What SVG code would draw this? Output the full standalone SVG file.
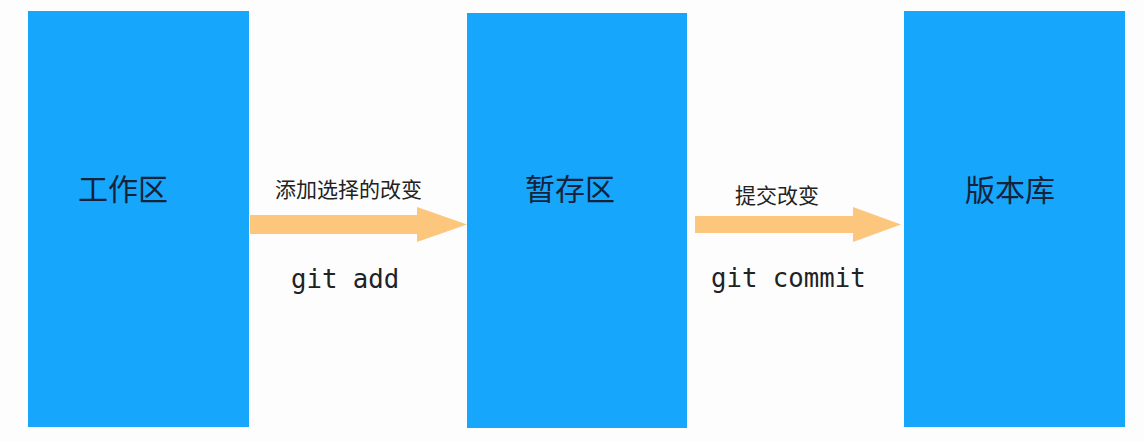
<svg xmlns="http://www.w3.org/2000/svg" width="1144" height="442" viewBox="0 0 1144 442">
<style>
.box{fill:#16A6FC;}
.big{font-family:"Noto Sans CJK SC","Noto Sans",sans-serif;font-size:30px;fill:#14233a;}
.lbl{font-family:"Noto Sans CJK SC","Noto Sans",sans-serif;font-size:21px;fill:#222;}
.code{font-family:"DejaVu Sans Mono","Liberation Mono",monospace;font-size:25.7px;fill:#222;}
.arrow{fill:#FDC67D;}
</style>
<rect width="1144" height="442" fill="#FDFDFE"/>
<g id="node-workspace">
<rect class="box" x="28" y="11" width="221" height="416"/>
<text class="big" x="78" y="200">工作区</text>
</g>
<g id="node-stage">
<rect class="box" x="467" y="13" width="220" height="415"/>
<text class="big" x="525" y="200">暂存区</text>
</g>
<g id="node-repo">
<rect class="box" x="904" y="11" width="221" height="416"/>
<text class="big" x="965" y="201">版本库</text>
</g>
<g id="connectors">
<polygon class="arrow" points="250,215 417,215 417,207 467,224.5 417,242 417,234 250,234"/>
<text class="lbl" x="275" y="197">添加选择的改变</text>
<text class="code" x="291" y="288">git add</text>
<polygon class="arrow" points="695,216 853,216 853,207 901,224.5 853,242 853,233 695,233"/>
<text class="lbl" x="735" y="203">提交改变</text>
<text class="code" x="711" y="287">git commit</text>
</g>
</svg>
